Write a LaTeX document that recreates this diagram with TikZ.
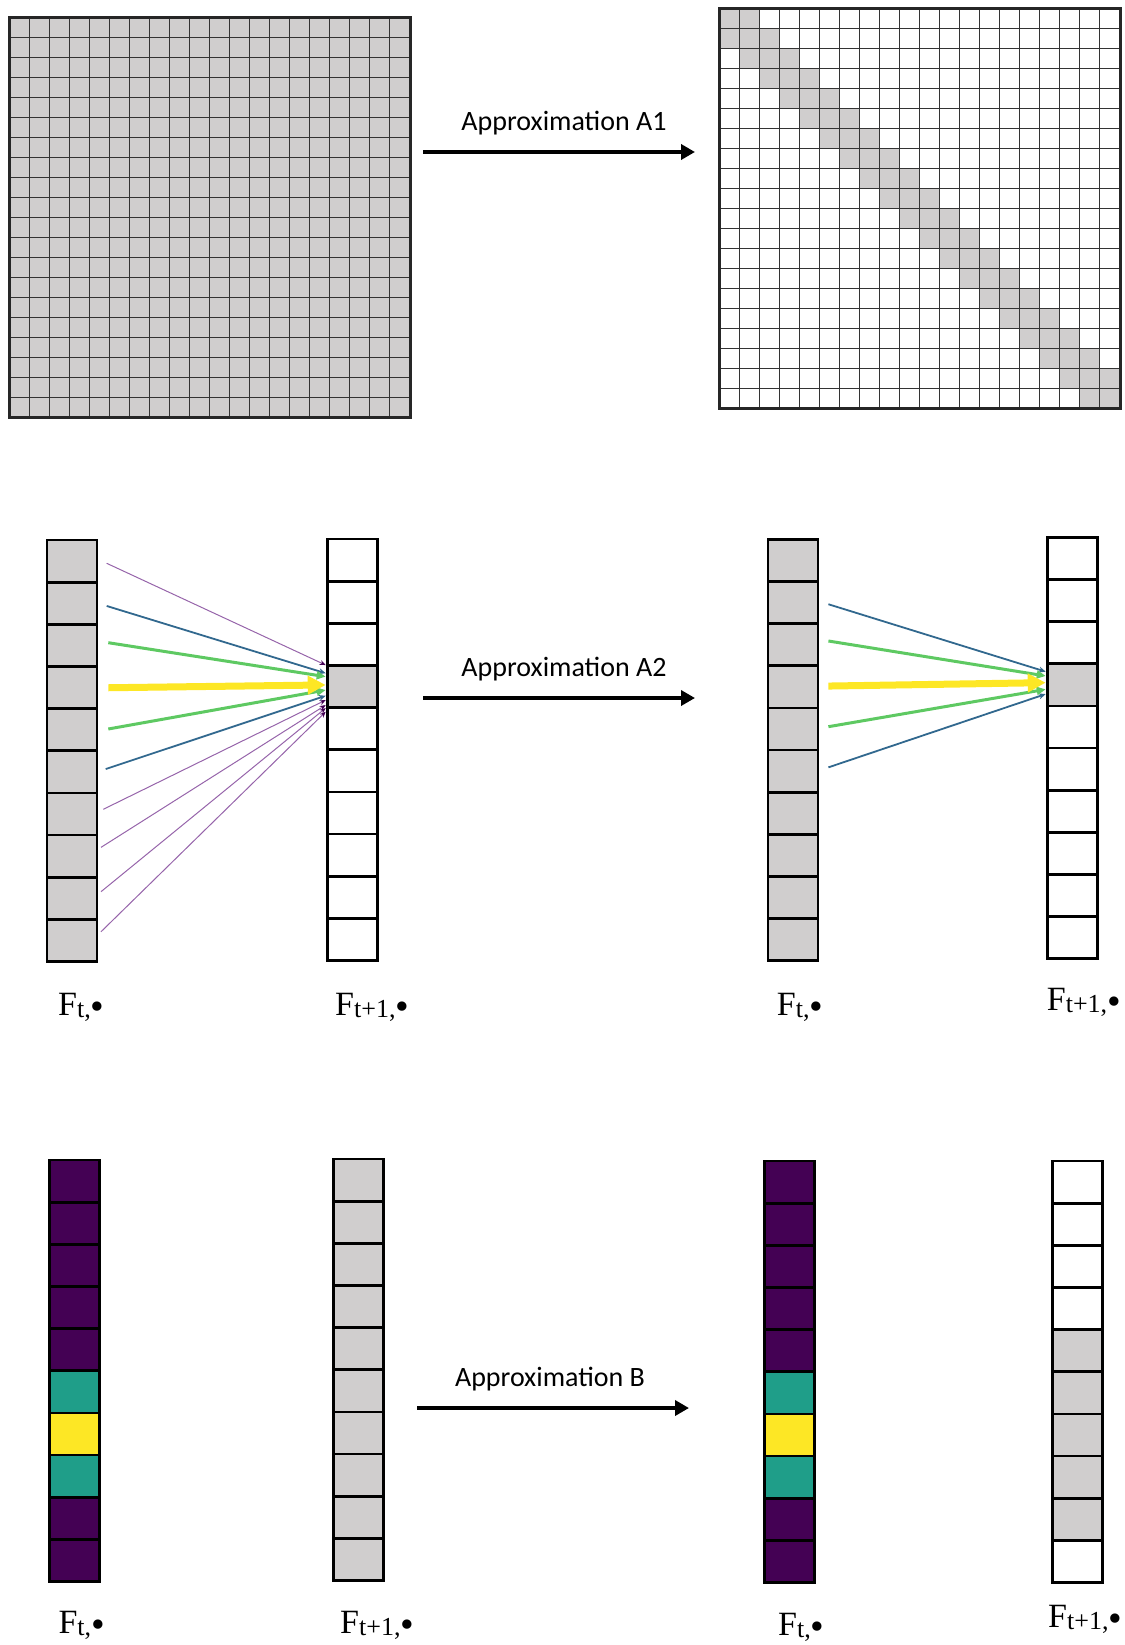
\documentclass[tikz,border=0pt]{standalone}
\usepackage{fontspec}
\setmainfont{Liberation Serif}
\newfontfamily\calibrifont{Carlito}
\usepackage{tikz}
\usetikzlibrary{arrows.meta,calc}

\definecolor{cellgray}{RGB}{208,206,206}
\definecolor{vpurple}{HTML}{440154}
\definecolor{vlilac}{RGB}{150,100,170}
\definecolor{vblue}{HTML}{31688E}
\definecolor{vteal}{HTML}{1F9E89}
\definecolor{vgreen}{HTML}{5EC962}
\definecolor{vyellow}{HTML}{FDE725}

\newcommand{\fsub}[1]{F\raisebox{-2.5pt}{\fontsize{26}{30}\selectfont #1}}
\newcommand{\dotsub}{\raisebox{-1.5pt}{\scalebox{1.5}{\textbullet}}}

\begin{document}
\begin{tikzpicture}[
  x=1pt, y=-1pt,
  gridline/.style={black!80,line width=1.7pt},
  gridframe/.style={draw=black!85,line width=2.2pt},
  cell/.style={draw,line width=2.7pt,minimum width=50pt,minimum height=42.15pt,inner sep=0pt,outer sep=0pt},
  approx/.style={font=\calibrifont\fontsize{28}{34}\selectfont},
  flabel/.style={font=\fontsize{34}{40}\selectfont,inner sep=0pt,anchor=base west},
  bigarrow/.style={-{Triangle[length=14pt,width=15pt]},line width=4pt},
  w1/.style={vlilac,line width=1pt,-{Stealth[length=6pt,width=5pt,color=vpurple]}},
  w2/.style={vblue,line width=1.8pt,-{Stealth[length=7pt,width=6pt]}},
  w3/.style={vgreen,line width=3pt,-{Triangle[length=9pt,width=8pt]}},
  w4/.style={vyellow,line width=7pt,-{Triangle[length=18pt,width=18pt]}}]

  \useasboundingbox (0,0) rectangle (1124,1645);

  % full covariance matrix
  \fill[cellgray] (9.5,17.5) rectangle (410.5,417.5);
  \foreach \k in {1,...,19} {
    \draw[gridline] (9.5+\k*20,17.5) -- (9.5+\k*20,417.5);
    \draw[gridline] (9.5,17.5+\k*20) -- (410.5,17.5+\k*20);
  }
  \draw[gridframe] (9.5,17.5) rectangle (410.5,417.5);

  % banded matrix
  \foreach \r in {0,...,19} {
    \foreach \d in {-1,0,1} {
      \pgfmathtruncatemacro\bandcol{\r+\d}
      \ifnum\bandcol>-1 \ifnum\bandcol<20
        \fill[cellgray] (719.5+\bandcol*20,8.5+\r*20) rectangle ++(20,20);
      \fi\fi
    }
  }
  \foreach \k in {1,...,19} {
    \draw[gridline] (719.5+\k*20,8.5) -- (719.5+\k*20,408.5);
    \draw[gridline] (719.5,8.5+\k*20) -- (1120.5,8.5+\k*20);
  }
  \draw[gridframe] (719.5,8.5) rectangle (1120.5,408.5);

  \coordinate (a1s) at (423,152);
  \coordinate (a1e) at (695,152);
  \draw[bigarrow] (a1s) -- node[approx,midway,above=12pt,xshift=5pt] {Approximation A1} (a1e);

  % vectors, middle row
  \foreach \i in {0,...,9}
    \node[cell,fill=cellgray] (m1-\i) at (72,561.1+\i*42.15) {};
  \foreach \f [count=\i from 0] in {white,white,white,cellgray,white,white,white,white,white,white}
    \node[cell,fill=\f] (m2-\i) at (352.3,560.1+\i*42.15) {};
  \foreach \i in {0,...,9}
    \node[cell,fill=cellgray] (m3-\i) at (793,560.4+\i*42.15) {};
  \foreach \f [count=\i from 0] in {white,white,white,cellgray,white,white,white,white,white,white}
    \node[cell,fill=\f] (m4-\i) at (1072.3,558.4+\i*42.15) {};

  % weights into one output cell
  \foreach \i/\dx/\dy/\ty/\w in {0/9.7/2.2/-21.5/w1, 6/6.3/-4.7/13.5/w1, 7/4/-8.8/18.5/w1,
      8/4/-6.6/21.5/w1, 9/4/-8.7/25.2/w1, 1/9.7/2.7/-13.3/w2, 5/8.7/-2.8/9.2/w2,
      2/11.3/-2.7/-9.9/w3, 4/11.3/-0.7/3.5/w3, 3/11.3/0.2/-1.6/w4}
    \draw[\w] ($(m1-\i.east)+(\dx,\dy)$) -- ($(m2-3.west)+(-1.6,\ty)$);

  \foreach \i/\dy/\ty/\w in {1/1.7/-13.2/w2, 5/-3.8/9.2/w2, 2/-3.7/-8.9/w3,
      4/-2.3/4.5/w3, 3/-0.8/-2.2/w4}
    \draw[\w] ($(m3-\i.east)+(10.4,\dy)$) -- ($(m4-3.west)+(-1.6,\ty)$);

  \coordinate (a2s) at (423,698);
  \coordinate (a2e) at (695,698);
  \draw[bigarrow] (a2s) -- node[approx,midway,above=12pt,xshift=5pt] {Approximation A2} (a2e);

  \node[flabel] (lm1) at ($(m1-9.south west)+(11,53.5)$) {\fsub{t,\dotsub}};
  \node[flabel] (lm2) at ($(m2-9.south west)+(7.7,54.5)$) {\fsub{t+1,\dotsub}};
  \node[flabel] (lm3) at ($(m3-9.south west)+(8.7,54.2)$) {\fsub{t,\dotsub}};
  \node[flabel] (lm4) at ($(m4-9.south west)+(-0.6,51.2)$) {\fsub{t+1,\dotsub}};

  % vectors, bottom row
  \foreach \f [count=\i from 0] in {vpurple,vpurple,vpurple,vpurple,vpurple,vteal,vyellow,vteal,vpurple,vpurple}
    \node[cell,fill=\f] (b1-\i) at (74.3,1181.1+\i*42.15) {};
  \foreach \i in {0,...,9}
    \node[cell,fill=cellgray] (b2-\i) at (358.8,1180.1+\i*42.15) {};
  \foreach \f [count=\i from 0] in {vpurple,vpurple,vpurple,vpurple,vpurple,vteal,vyellow,vteal,vpurple,vpurple}
    \node[cell,fill=\f] (b3-\i) at (789.5,1182.1+\i*42.15) {};
  \foreach \f [count=\i from 0] in {white,white,white,white,cellgray,cellgray,cellgray,cellgray,cellgray,white}
    \node[cell,fill=\f] (b4-\i) at (1077.7,1182.1+\i*42.15) {};

  \coordinate (bs) at (417,1408);
  \coordinate (be) at (689,1408);
  \draw[bigarrow] (bs) -- node[approx,midway,above=12pt,xshift=-3pt] {Approximation B} (be);

  \node[flabel] (lb1) at ($(b1-9.south west)+(9,51.5)$) {\fsub{t,\dotsub}};
  \node[flabel] (lb2) at ($(b2-9.south west)+(6.2,52.5)$) {\fsub{t+1,\dotsub}};
  \node[flabel] (lb3) at ($(b3-9.south west)+(13.5,52.5)$) {\fsub{t,\dotsub}};
  \node[flabel] (lb4) at ($(b4-9.south west)+(-4.7,44.5)$) {\fsub{t+1,\dotsub}};

\end{tikzpicture}
\end{document}
